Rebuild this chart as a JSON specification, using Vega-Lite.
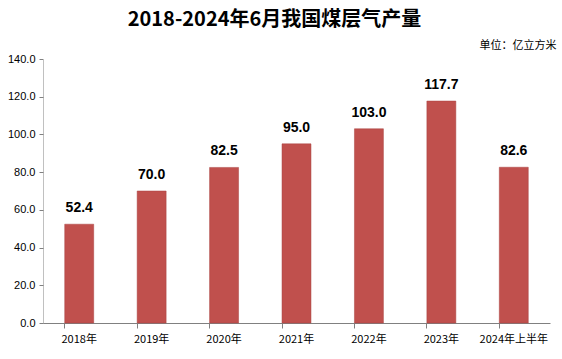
{
  "$schema": "https://vega.github.io/schema/vega-lite/v6.json",
  "autosize": {"type": "none"},
  "width": 507,
  "height": 264,
  "padding": {"left": 43, "top": 59, "right": 12, "bottom": 36},
  "background": "white",
  "title": {
    "text": "2018-2024年6月我国煤层气产量",
    "font": "Noto Sans CJK SC",
    "fontSize": 20,
    "fontWeight": "bold",
    "color": "#000000",
    "anchor": "middle",
    "dx": -22,
    "offset": 9
  },
  "data": {
    "values": [
      {"year": "2018年", "value": 52.4, "label": "52.4"},
      {"year": "2019年", "value": 70.0, "label": "70.0"},
      {"year": "2020年", "value": 82.5, "label": "82.5"},
      {"year": "2021年", "value": 95.0, "label": "95.0"},
      {"year": "2022年", "value": 103.0, "label": "103.0"},
      {"year": "2023年", "value": 117.7, "label": "117.7"},
      {"year": "2024年上半年", "value": 82.6, "label": "82.6"}
    ]
  },
  "encoding": {
    "x": {
      "field": "year",
      "type": "nominal",
      "sort": null,
      "scale": {"paddingInner": 0.6, "paddingOuter": 0.3},
      "axis": {
        "title": null,
        "labelAngle": 0,
        "labelFont": "Noto Sans CJK SC",
        "labelFontSize": 11,
        "labelColor": "#000000",
        "labelPadding": 5,
        "bandPosition": 0,
        "ticks": true,
        "tickSize": 5,
        "tickColor": "#808080",
        "domainColor": "#808080",
        "grid": false
      }
    },
    "y": {
      "field": "value",
      "type": "quantitative",
      "scale": {"domain": [0, 140], "nice": false},
      "axis": {
        "values": [0, 20, 40, 60, 80, 100, 120, 140],
        "format": ".1f",
        "grid": false,
        "labelFont": "Liberation Sans",
        "labelFontSize": 11,
        "labelColor": "#000000",
        "labelPadding": 4,
        "tickSize": 4,
        "tickColor": "#808080",
        "domainColor": "#808080",
        "domainDash": [1, 1],
        "title": "单位：亿立方米",
        "titleFont": "Noto Sans CJK SC",
        "titleFontSize": 11,
        "titleFontWeight": "normal",
        "titleColor": "#000000",
        "titleAngle": 0,
        "titleAlign": "right",
        "titleBaseline": "middle",
        "titleX": 513,
        "titleY": -14
      }
    }
  },
  "layer": [
    {
      "mark": {"type": "bar", "color": "#c0504d", "stroke": "#a84340", "strokeWidth": 0.5}
    },
    {
      "mark": {
        "type": "text",
        "baseline": "bottom",
        "dy": -9,
        "font": "Liberation Sans",
        "fontSize": 14,
        "fontWeight": "bold",
        "color": "#000000"
      },
      "encoding": {"text": {"field": "label"}}
    }
  ],
  "config": {"view": {"stroke": null}}
}
